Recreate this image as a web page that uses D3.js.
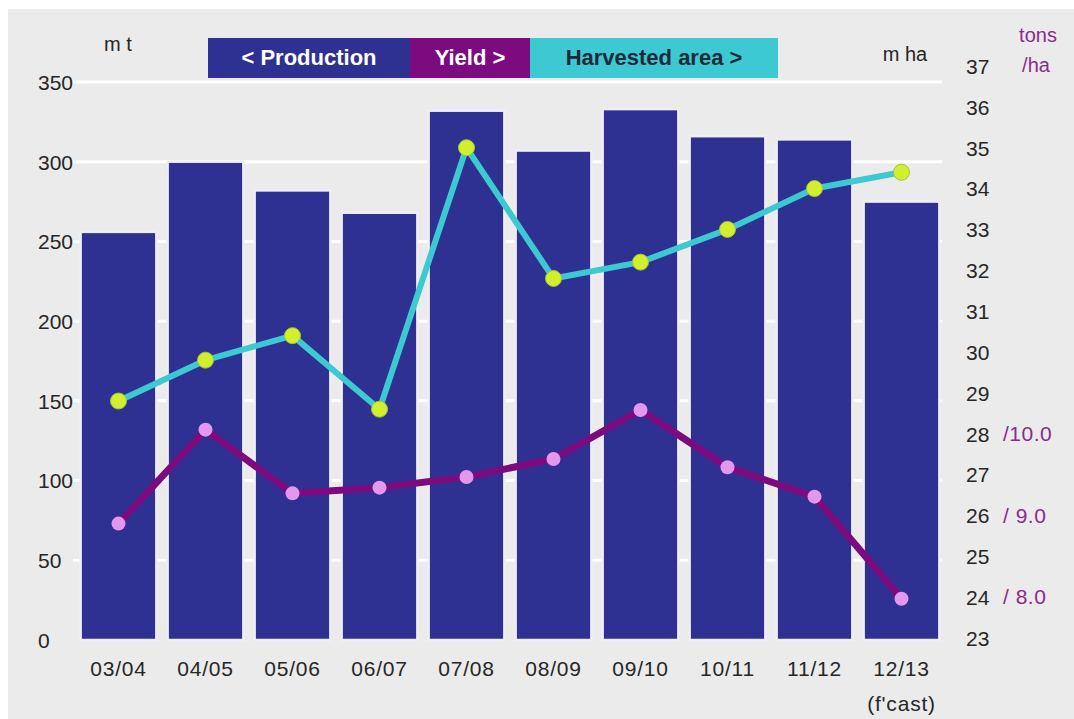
<!DOCTYPE html>
<html>
<head>
<meta charset="utf-8">
<script src="https://cdn.jsdelivr.net/npm/d3@7"></script>
<style>
  html, body { margin: 0; padding: 0; background: #ffffff; }
  svg { display: block; }
  text { font-family: "Liberation Sans", Arial, sans-serif; }
</style>
</head>
<body>
<script>
// Seasons on the category axis
const seasons = ["03/04", "04/05", "05/06", "06/07", "07/08", "08/09", "09/10", "10/11", "11/12", "12/13"];
// Production, million tonnes (left axis, bars)
const production = [256, 300, 282, 268, 332, 307, 333, 316, 314, 275];
// Harvested area, million hectares (right axis)
const harvestedArea = [28.8, 29.8, 30.4, 28.6, 35.0, 31.8, 32.2, 33.0, 34.0, 34.4];
// Yield, tonnes per hectare (secondary right axis)
const yieldTpha = [8.9, 10.05, 9.27, 9.34, 9.47, 9.69, 10.29, 9.59, 9.23, 7.98];
// Axis ticks
const leftTicks = [0, 50, 100, 150, 200, 250, 300, 350];
const areaTicks = [23, 24, 25, 26, 27, 28, 29, 30, 31, 32, 33, 34, 35, 36, 37];
const yieldTicks = [8.0, 9.0, 10.0];
const yieldTickLabels = ["/ 8.0", "/ 9.0", "/10.0"];

const W = 1074, H = 719;
const FS = 21;
const TXT = "#262626", PURPLE_TXT = "#8a2b8c";
const svg = d3.select("body").append("svg").attr("width", W).attr("height", H);

// Page background
svg.append("rect").attr("width", W).attr("height", H).attr("fill", "#ffffff");
svg.append("rect").attr("x", 8).attr("y", 9).attr("width", W - 8).attr("height", H - 9).attr("fill", "#ebebeb");

const x = d3.scaleBand().domain(seasons).range([75, 945]).paddingInner(0.13).paddingOuter(0.065);
const yLeft = d3.scaleLinear().domain([0, 350]).range([640, 82]);
const yArea = d3.scaleLinear().domain([23, 37]).range([638, 66]);
// Yield shares the area axis: 8.0 t/ha sits at 24, each 1.0 t/ha spans 2 m ha
const yYield = d3.scaleLinear().domain([7.5, 14.5]).range([638, 66]);

// Gridlines behind the bars
svg.append("g").selectAll("line").data(leftTicks.filter(d => d > 0)).join("line")
  .attr("x1", 73).attr("x2", 942)
  .attr("y1", d => yLeft(d)).attr("y2", d => yLeft(d))
  .attr("stroke", "#ffffff").attr("stroke-width", 3);

// Production bars
svg.append("g").selectAll("rect").data(seasons).join("rect")
  .attr("x", d => x(d))
  .attr("y", (d, i) => yLeft(production[i]))
  .attr("width", x.bandwidth())
  .attr("height", (d, i) => yLeft(0) - yLeft(production[i]))
  .attr("fill", "#2f3192")
  .attr("stroke", "#eeedfa").attr("stroke-width", 2.5);

// Left axis labels (left-aligned)
const lAxis = svg.append("g").attr("transform", "translate(38,0)")
  .call(d3.axisRight(yLeft).tickValues(leftTicks).tickSize(0).tickPadding(0));
lAxis.select(".domain").remove();
lAxis.selectAll("text").attr("font-size", FS).attr("fill", TXT).attr("dy", "0.35em");

// Right (area) axis labels
const rAxis = svg.append("g").attr("transform", "translate(966,0)")
  .call(d3.axisRight(yArea).tickValues(areaTicks).tickSize(0).tickPadding(0));
rAxis.select(".domain").remove();
rAxis.selectAll("text").attr("font-size", FS).attr("fill", TXT).attr("dy", "0.35em");

// Yield axis labels
svg.append("g").selectAll("text").data(yieldTicks).join("text")
  .attr("x", 1003).attr("y", d => yYield(d)).attr("dy", "0.35em")
  .attr("font-size", FS).attr("fill", PURPLE_TXT).attr("letter-spacing", 0.5)
  .text((d, i) => yieldTickLabels[i]);

// Category labels
const xAxis = svg.append("g").attr("transform", "translate(0,676)")
  .call(d3.axisBottom(x).tickSize(0).tickPadding(0));
xAxis.select(".domain").remove();
xAxis.selectAll("text").attr("font-size", FS).attr("fill", TXT).attr("dy", 0).attr("y", 0)
  .attr("letter-spacing", 0.8);
svg.append("text").attr("x", x("12/13") + x.bandwidth() / 2).attr("y", 711)
  .attr("text-anchor", "middle").attr("font-size", FS).attr("fill", TXT)
  .attr("letter-spacing", 0.8).text("(f'cast)");

// Unit labels
svg.append("text").attr("x", 118).attr("y", 51).attr("text-anchor", "middle")
  .attr("font-size", 20).attr("fill", TXT).text("m t");
svg.append("text").attr("x", 905).attr("y", 61).attr("text-anchor", "middle")
  .attr("font-size", 20).attr("fill", TXT).text("m ha");
svg.append("text").attr("x", 1038).attr("y", 42).attr("text-anchor", "middle")
  .attr("font-size", 20).attr("fill", PURPLE_TXT).text("tons");
svg.append("text").attr("x", 1036).attr("y", 72).attr("text-anchor", "middle")
  .attr("font-size", 20).attr("fill", PURPLE_TXT).text("/ha");

const cx = d => x(d) + x.bandwidth() / 2;

// Harvested area line and markers
svg.append("path").datum(seasons)
  .attr("d", d3.line().x(cx).y((d, i) => yArea(harvestedArea[i])))
  .attr("fill", "none").attr("stroke", "#3cc9d2").attr("stroke-width", 6).attr("stroke-linejoin", "round");
svg.append("g").selectAll("circle").data(seasons).join("circle")
  .attr("cx", cx).attr("cy", (d, i) => yArea(harvestedArea[i])).attr("r", 8)
  .attr("fill", "#d2ef2e").attr("stroke", "#9fc63a").attr("stroke-width", 1);

// Yield line and markers
svg.append("path").datum(seasons)
  .attr("d", d3.line().x(cx).y((d, i) => yYield(yieldTpha[i])))
  .attr("fill", "none").attr("stroke", "#7b0b7e").attr("stroke-width", 7).attr("stroke-linejoin", "round");
svg.append("g").selectAll("circle").data(seasons).join("circle")
  .attr("cx", cx).attr("cy", (d, i) => yYield(yieldTpha[i])).attr("r", 7)
  .attr("fill", "#e397ee");

// Legend band
const legend = [
  { label: "< Production", x0: 208, x1: 410, fill: "#2f3192", color: "#ffffff" },
  { label: "Yield >", x0: 410, x1: 530, fill: "#7b0b7e", color: "#ffffff" },
  { label: "Harvested area >", x0: 530, x1: 778, fill: "#3cc9d2", color: "#1f2a3a" }
];
const lg = svg.append("g");
lg.selectAll("rect").data(legend).join("rect")
  .attr("x", d => d.x0).attr("y", 38).attr("width", d => d.x1 - d.x0).attr("height", 40)
  .attr("fill", d => d.fill);
lg.selectAll("text").data(legend).join("text")
  .attr("x", d => (d.x0 + d.x1) / 2).attr("y", 57).attr("dy", "0.35em")
  .attr("text-anchor", "middle").attr("font-size", 22).attr("font-weight", "bold")
  .attr("fill", d => d.color).text(d => d.label);
</script>
</body>
</html>
